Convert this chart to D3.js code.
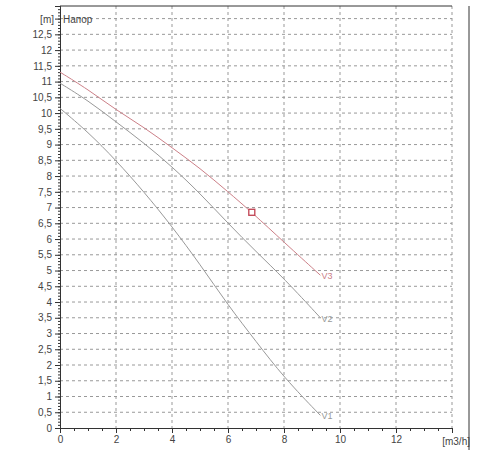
<!DOCTYPE html><html><head><meta charset="utf-8"><script src="https://d3js.org/d3.v7.min.js"></script>
<style>body{margin:0;background:#fff}text{font-family:Arial,"Liberation Sans",sans-serif;font-size:10px;fill:#444}</style></head><body><svg width="500" height="450"></svg><script>
const xTicks=[0,2,4,6,8,10,12];
const yTicks=d3.range(0,13.01,0.5);
const v1X=[0,1,2,3,4,5,6,7,8,9.3], v1Y=[10.15,9.4,8.5,7.5,6.4,5.2,3.9,2.75,1.6,0.4];
const v2X=[0,1,2,3,4,5,6,7,8,9.3], v2Y=[10.95,10.4,9.72,9.05,8.3,7.45,6.5,5.6,4.75,3.5];
const v3X=[0,1,2,3,4,5,6,6.85,8,9.3], v3Y=[11.3,10.75,10.1,9.55,8.9,8.25,7.5,6.85,5.9,4.85];
const seriesNames=["V1","V2","V3"];
const opPoint=[6.85,6.85];
const svg=d3.select("svg");
const x=d3.scaleLinear().domain([0,14]).range([60,452]);
const y=d3.scaleLinear().domain([0,13.4]).range([428,6]);
const g=svg.append("g");
g.selectAll(".vg").data(xTicks.concat([14]).filter(d=>d>0)).enter().append("line").attr("x1",d=>x(d)).attr("x2",d=>x(d)).attr("y1",y(13.4)).attr("y2",y(0)).attr("stroke","#999").attr("stroke-dasharray","3,3");
g.selectAll(".hg").data(yTicks.filter(d=>d>0)).enter().append("line").attr("x1",x(0)).attr("x2",x(14)).attr("y1",d=>y(d)).attr("y2",d=>y(d)).attr("stroke","#999").attr("stroke-dasharray","3,3");
g.append("line").attr("x1",x(0)).attr("x2",x(14)).attr("y1",y(13.4)).attr("y2",y(13.4)).attr("stroke","#333");
g.append("line").attr("x1",469).attr("x2",469).attr("y1",y(13.4)).attr("y2",450).attr("stroke","#333");
const ya=svg.append("g").attr("transform",`translate(${x(0)},0)`).call(d3.axisLeft(y).tickValues(yTicks).tickSize(5).tickFormat(d=>d>=13?"":String(d).replace(".",",")));
ya.append("g").call(d3.axisLeft(y).tickValues(d3.range(0,13.41,0.1)).tickSize(2).tickFormat(""));
const xa=svg.append("g").attr("transform",`translate(0,${y(0)})`).call(d3.axisBottom(x).tickValues(xTicks).tickSize(5));
xa.append("g").call(d3.axisBottom(x).tickValues(d3.range(0,14.01,0.5)).tickSize(3).tickFormat(""));
svg.selectAll(".domain,.tick line").attr("stroke","#333");
svg.selectAll(".tick text").style("font-size","10px").attr("fill","#444");
svg.append("text").attr("x",x(0)-6).attr("y",y(13)+4).attr("text-anchor","end").text("[m]");
svg.append("text").attr("x",x(0)+3).attr("y",y(13)+4).text("Напор");
svg.append("text").attr("x",470).attr("y",y(0)+17).attr("text-anchor","end").text("[m3/h]");
const line=d3.line().x(d=>x(d[0])).y(d=>y(d[1])).curve(d3.curveBasis);
const cols=["#999","#999","#cc8088"];
[[v1X,v1Y],[v2X,v2Y],[v3X,v3Y]].forEach((s,i)=>{
  const pts=s[0].map((v,j)=>[v,s[1][j]]);
  svg.append("path").attr("d",line(pts)).attr("fill","none").attr("stroke",cols[i]).attr("stroke-width",1);
  const last=pts[pts.length-1];
  svg.append("text").attr("x",x(last[0])+1).attr("y",y(last[1])+4).style("fill",cols[i]).style("font-size","9px").text(seriesNames[i]);
});
svg.append("rect").attr("x",x(opPoint[0])-3).attr("y",y(opPoint[1])-3).attr("width",6).attr("height",6).attr("fill","#fff").attr("stroke","#c04050").attr("stroke-width",1.3);
</script></body></html>
